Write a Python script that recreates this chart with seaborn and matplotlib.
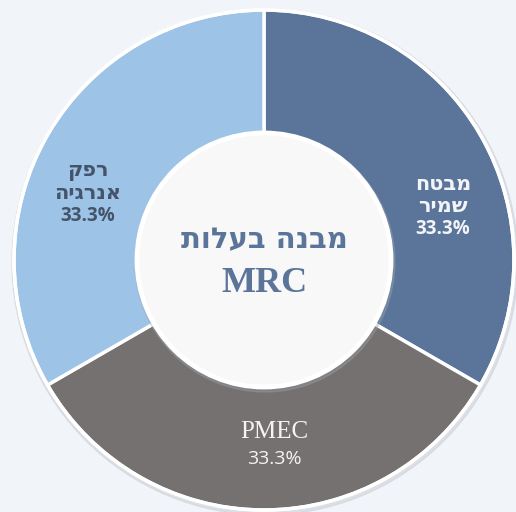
import numpy as np
import seaborn as sns
import matplotlib.pyplot as plt
from matplotlib.patches import Circle

# data
names = ['מבטח\nשמיר', 'PMEC', 'רפק\nאנרגיה']
shares = [33.3, 33.3, 33.3]
colors = ['#5A7599', '#767171', '#9DC3E6']
text_colors = ['#F2F4F7', '#F4F4F4', '#44546A']
title_lines = ['מבנה בעלות', 'MRC']


def visual(s):
    # matplotlib has no bidi support: flip Hebrew lines for display
    if any('\u0590' <= ch <= '\u05FF' for ch in s):
        return '\n'.join(line[::-1] for line in s.split('\n'))
    return s


sns.set_theme(style='white')
plt.rcParams['font.family'] = ['DejaVu Sans']

W, H = 516, 512
fig = plt.figure(figsize=(W / 100, H / 100), dpi=100, facecolor='#F1F4F8')
ax = fig.add_axes([0, 0, 1, 1])
ax.set_facecolor('#F1F4F8')

cx, cy, R = 264, H - 260, 250
r_in = 127

# soft shadow behind the ring
ax.add_patch(Circle((cx + 1, cy - 2), R + 3, color='#C9CED6', alpha=0.5, zorder=0))

ax.pie(shares, colors=colors, startangle=90, counterclock=False,
       center=(cx, cy), radius=R, frame=True,
       wedgeprops=dict(edgecolor='white', linewidth=2.5))
ax.set_xlim(0, W)
ax.set_ylim(0, H)
ax.set_aspect('equal')
ax.axis('off')

ax.add_patch(Circle((cx, cy), R, fill=False, edgecolor='white', lw=2.5, zorder=3))

# centre disc
ax.add_patch(Circle((cx + 1, cy - 2), r_in + 3, color='#9AA3AE', alpha=0.35, zorder=4))
ax.add_patch(Circle((cx, cy), r_in, facecolor='#F8F8F8', edgecolor='white', lw=3.5, zorder=5))

ax.text(cx, H - 240, visual(title_lines[0]), ha='center', va='center', fontsize=21,
        fontweight='bold', color='#5A7599', family='DejaVu Sans', zorder=6)
ax.text(cx, H - 283, title_lines[1], ha='center', va='center', fontsize=26,
        fontweight='bold', color='#5A7599', family='Liberation Serif', zorder=6)

# slice labels (name block centre, percentage line)
name_pos = [(443, 195), (274, 432), (88, 182)]
pct_pos = [(443, 229), (274, 459), (88, 216)]
for i in range(len(names)):
    nx, ny = name_pos[i]
    px, py = pct_pos[i]
    if names[i] == 'PMEC':
        ax.text(nx, H - ny, names[i], ha='center', va='center', fontsize=18,
                color=text_colors[i], family='Liberation Serif', zorder=6)
        ax.text(px, H - py, f'{shares[i]:.1f}%', ha='center', va='center', fontsize=14,
                color=text_colors[i], family='Open Sans', zorder=6)
    else:
        ax.text(nx, H - ny, visual(names[i]), ha='center', va='center', fontsize=15,
                fontweight='bold', color=text_colors[i], linespacing=1.1,
                family='DejaVu Sans', zorder=6)
        ax.text(px, H - py, f'{shares[i]:.1f}%', ha='center', va='center', fontsize=13.5,
                fontweight='bold', color=text_colors[i], family='Open Sans', zorder=6)

fig.savefig('out.png', dpi=100, facecolor=fig.get_facecolor())
